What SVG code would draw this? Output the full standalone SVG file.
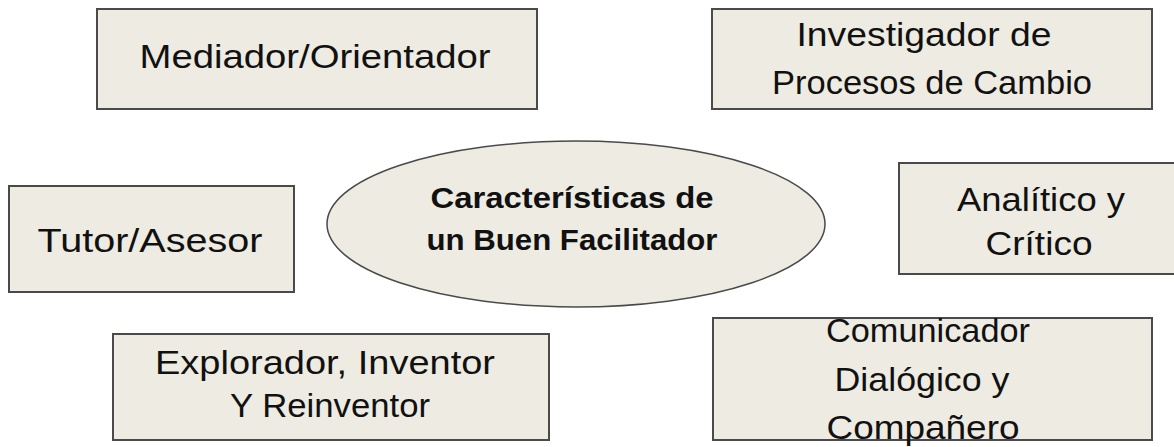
<svg xmlns="http://www.w3.org/2000/svg" width="1174" height="447" viewBox="0 0 1174 447">
<style>
.box{fill:#edebe2;stroke:#4a4a4a;stroke-width:2}
.t{font-family:"Liberation Sans","DejaVu Sans",sans-serif;font-size:33px;fill:#111;text-anchor:middle}
.b{font-weight:bold;font-size:29px}
</style>
<rect width="1174" height="447" fill="#ffffff"/>
<g id="center">
<ellipse cx="576" cy="224" rx="249" ry="83" fill="#edebe2" stroke="#4a4a4a" stroke-width="1.5"/>
<text class="t b" x="572" y="208" textLength="283" lengthAdjust="spacingAndGlyphs">Características de</text>
<text class="t b" x="572" y="250" textLength="291" lengthAdjust="spacingAndGlyphs">un Buen Facilitador</text>
</g>
<g id="mediador">
<rect class="box" x="97" y="9" width="440" height="100"/>
<text class="t" x="315" y="68" textLength="351" lengthAdjust="spacingAndGlyphs">Mediador/Orientador</text>
</g>
<g id="investigador">
<rect class="box" x="712" y="9" width="440" height="100"/>
<text class="t" x="924" y="46" textLength="255" lengthAdjust="spacingAndGlyphs">Investigador de</text>
<text class="t" x="932" y="94" textLength="320" lengthAdjust="spacingAndGlyphs">Procesos de Cambio</text>
</g>
<g id="tutor">
<rect class="box" x="9" y="186" width="285" height="106"/>
<text class="t" x="150" y="252" textLength="225" lengthAdjust="spacingAndGlyphs">Tutor/Asesor</text>
</g>
<g id="analitico">
<rect class="box" x="899" y="163" width="285" height="111"/>
<text class="t" x="1041" y="211" textLength="168" lengthAdjust="spacingAndGlyphs">Analítico y</text>
<text class="t" x="1039" y="255" textLength="107" lengthAdjust="spacingAndGlyphs">Crítico</text>
</g>
<g id="explorador">
<rect class="box" x="113" y="334" width="436" height="106"/>
<text class="t" x="325" y="374" textLength="340" lengthAdjust="spacingAndGlyphs">Explorador, Inventor</text>
<text class="t" x="330" y="417" textLength="200" lengthAdjust="spacingAndGlyphs">Y Reinventor</text>
</g>
<g id="comunicador">
<rect class="box" x="713" y="318" width="439" height="122"/>
<text class="t" x="928" y="342" textLength="204" lengthAdjust="spacingAndGlyphs">Comunicador</text>
<text class="t" x="922" y="391" textLength="175" lengthAdjust="spacingAndGlyphs">Dialógico y</text>
<text class="t" x="923" y="439" textLength="193" lengthAdjust="spacingAndGlyphs">Compañero</text>
</g>
<g id="connectors"></g>
</svg>
